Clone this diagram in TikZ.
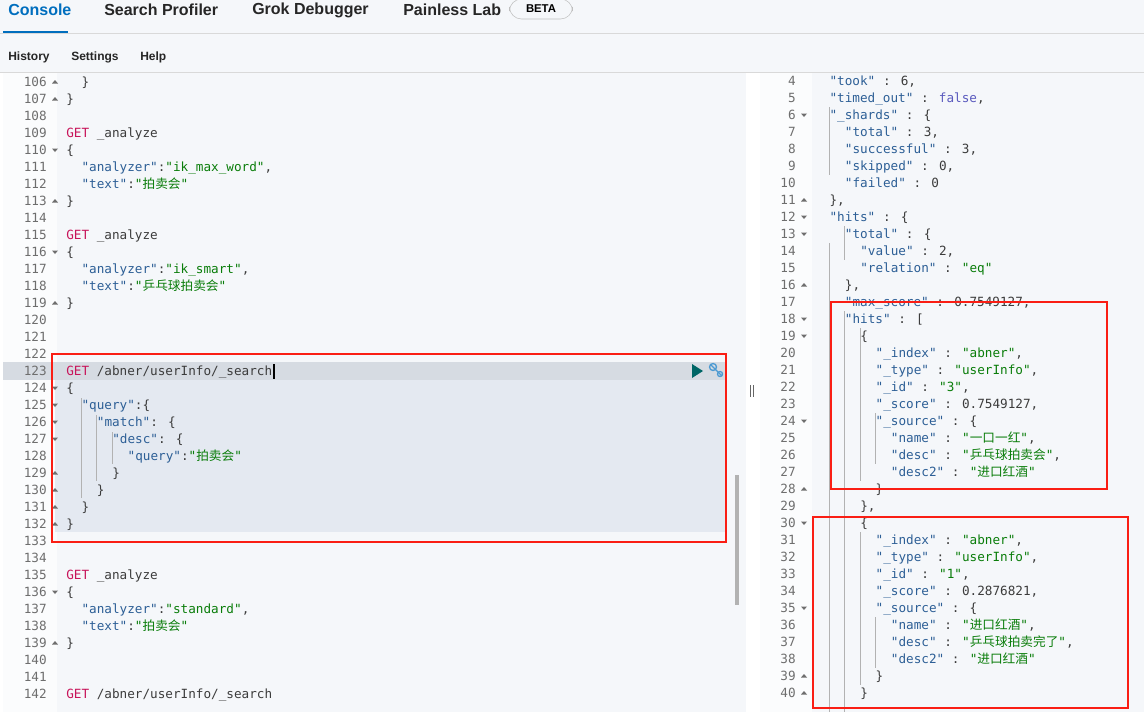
\documentclass[tikz,border=0pt]{standalone}
\usepackage{fontspec}
\setmainfont{Liberation Sans}
\newfontfamily\cjk{Noto Sans CJK SC}
\newfontfamily\mono{DejaVu Sans Mono}
\begin{document}
\definecolor{kc}{RGB}{45,95,150}
\definecolor{sc}{RGB}{10,125,10}
\definecolor{gc}{RGB}{200,20,90}
\definecolor{tc}{RGB}{60,60,60}
\definecolor{nc}{RGB}{110,110,110}
\definecolor{bg}{RGB}{245,247,250}
\definecolor{sel}{RGB}{228,233,241}
\definecolor{kb}{RGB}{0,110,190}
\definecolor{rb}{RGB}{250,30,20}
\definecolor{fc}{RGB}{90,90,190}
\newcommand\K[1]{\textcolor{kc}{#1}}
\newcommand\Sx[1]{\textcolor{sc}{#1}}
\newcommand\C[1]{{\cjk #1}}
\newcommand\Lc[3]{\node[code] at ({66+#2*7.67},{82+(#1-106)*17+4}) {#3};
  \node[lno] at (47,{82+(#1-106)*17+4}) {#1};}
\newcommand\Rc[3]{\node[code] at ({814+#2*7.67},{81+(#1-4)*17+4}) {#3};
  \node[lno] at (796,{81+(#1-4)*17+4}) {#1};}
\newcommand\FdL[1]{\fill[nc] (52,{82+(#1-106)*17-1.5}) -- (58,{82+(#1-106)*17-1.5}) -- (55,{82+(#1-106)*17+2}) -- cycle;}
\newcommand\FuL[1]{\fill[nc] (52,{82+(#1-106)*17+1.5}) -- (58,{82+(#1-106)*17+1.5}) -- (55,{82+(#1-106)*17-2}) -- cycle;}
\newcommand\FdR[1]{\fill[nc] (801,{81+(#1-4)*17-1.5}) -- (807,{81+(#1-4)*17-1.5}) -- (804,{81+(#1-4)*17+2}) -- cycle;}
\newcommand\FuR[1]{\fill[nc] (801,{81+(#1-4)*17+1.5}) -- (807,{81+(#1-4)*17+1.5}) -- (804,{81+(#1-4)*17-2}) -- cycle;}
\begin{tikzpicture}[x=0.75pt,y=-0.75pt,
  code/.style={anchor=base west,inner sep=0,font=\mono\fontsize{9.5}{11}\selectfont,text=tc},
  lno/.style={anchor=base east,inner sep=0,font=\mono\fontsize{9.5}{11}\selectfont,text=nc},
  tab/.style={anchor=west,inner sep=0,font=\fontsize{12}{14}\selectfont\bfseries,text=black!85},
  tool/.style={anchor=west,inner sep=0,font=\fontsize{9}{11}\selectfont\bfseries,text=black!85},
  red/.style={draw=rb,line width=1.9pt},
  guide/.style={draw=black!30,line width=0.5pt}]
\useasboundingbox (0,0) rectangle (1144,718);
\fill[white] (0,0) rectangle (1144,718);
\fill[bg] (0,0) rectangle (1144,72);
% tabs
\node[tab,text=kb] (t1) at (8,10) {Console};
\node[tab] (t2) at (104,10) {Search Profiler};
\node[tab] (t3) at (252,10) {Grok Debugger};
\node[tab] (t4) at (403,10) {Painless Lab};
\node[draw=black!25,rounded corners=9pt,minimum width=63pt*0.75,minimum height=20pt*0.75,inner sep=0,font=\fontsize{8.5}{10}\selectfont\bfseries] (beta) at (541,9) {BETA};
\draw[black!15] (0,33) -- (1144,33);
\draw[kb,line width=1.5pt] (3,32) -- (68,32);
\node[tool] (h1) at (8,57) {History};
\node[tool] (h2) at (71,57) {Settings};
\node[tool] (h3) at (140,57) {Help};
\draw[black!15] (0,72) -- (1144,72);
% panels
\fill[bg] (3,73) rectangle (746,712);
\fill[white!60!bg] (3,73) rectangle (57,712);
\fill[bg] (760,73) rectangle (1144,712);
\fill[white!60!bg] (760,73) rectangle (812,712);
\fill[sel] (55,362) rectangle (725,532);
\fill[black!6!sel] (3,362) rectangle (725,380);
\fill[black!30] (735,475) rectangle (739,605);
\draw[black!60,line width=0.6pt] (750,385) -- (750,397) (753,385) -- (753,397);
% left code
\Lc{106}{2}{\}}
\Lc{107}{0}{\}}
\Lc{108}{0}{}
\Lc{109}{0}{\textcolor{gc}{GET} \_analyze}
\Lc{110}{0}{\{}
\Lc{111}{2}{\K{"analyzer"}:\Sx{"ik\_max\_word"},}
\Lc{112}{2}{\K{"text"}:\Sx{"\C{拍卖会}"}}
\Lc{113}{0}{\}}
\Lc{114}{0}{}
\Lc{115}{0}{\textcolor{gc}{GET} \_analyze}
\Lc{116}{0}{\{}
\Lc{117}{2}{\K{"analyzer"}:\Sx{"ik\_smart"},}
\Lc{118}{2}{\K{"text"}:\Sx{"\C{乒乓球拍卖会}"}}
\Lc{119}{0}{\}}
\Lc{120}{0}{}
\Lc{121}{0}{}
\Lc{122}{0}{}
\Lc{123}{0}{\textcolor{gc}{GET} /abner/userInfo/\_search}
\Lc{124}{0}{\{}
\Lc{125}{2}{\K{"query"}:\{}
\Lc{126}{4}{\K{"match"}: \{}
\Lc{127}{6}{\K{"desc"}: \{}
\Lc{128}{8}{\K{"query"}:\Sx{"\C{拍卖会}"}}
\Lc{129}{6}{\}}
\Lc{130}{4}{\}}
\Lc{131}{2}{\}}
\Lc{132}{0}{\}}
\Lc{133}{0}{}
\Lc{134}{0}{}
\Lc{135}{0}{\textcolor{gc}{GET} \_analyze}
\Lc{136}{0}{\{}
\Lc{137}{2}{\K{"analyzer"}:\Sx{"standard"},}
\Lc{138}{2}{\K{"text"}:\Sx{"\C{拍卖会}"}}
\Lc{139}{0}{\}}
\Lc{140}{0}{}
\Lc{141}{0}{}
\Lc{142}{0}{\textcolor{gc}{GET} /abner/userInfo/\_search}
\draw[black,line width=0.8pt] (274,364) -- (274,379);
\foreach \n in {110,116,124,125,126,127,136} {\FdL{\n}}
\foreach \n in {106,107,113,119,129,130,131,132,139} {\FuL{\n}}
\draw[guide] (81,398) -- (81,498) (96,415) -- (96,481) (112,432) -- (112,464);
% run / wrench icons
\fill[teal!80!black] (692,364) -- (692,378) -- (703,371) -- cycle;
\draw[kb!70,line width=1pt] (711,365) -- (722,376);
\draw[kb!70,line width=1pt] (713,367) circle (3.5);
\draw[kb!70,line width=1pt] (720,374) circle (2.5);
% right code
\Rc{4}{2}{\K{"took"} : 6,}
\Rc{5}{2}{\K{"timed\_out"} : \textcolor{fc}{false},}
\Rc{6}{2}{\K{"\_shards"} : \{}
\Rc{7}{4}{\K{"total"} : 3,}
\Rc{8}{4}{\K{"successful"} : 3,}
\Rc{9}{4}{\K{"skipped"} : 0,}
\Rc{10}{4}{\K{"failed"} : 0}
\Rc{11}{2}{\},}
\Rc{12}{2}{\K{"hits"} : \{}
\Rc{13}{4}{\K{"total"} : \{}
\Rc{14}{6}{\K{"value"} : 2,}
\Rc{15}{6}{\K{"relation"} : \Sx{"eq"}}
\Rc{16}{4}{\},}
\Rc{17}{4}{\K{"max\_score"} : 0.7549127,}
\Rc{18}{4}{\K{"hits"} : [}
\Rc{19}{6}{\{}
\Rc{20}{8}{\K{"\_index"} : \Sx{"abner"},}
\Rc{21}{8}{\K{"\_type"} : \Sx{"userInfo"},}
\Rc{22}{8}{\K{"\_id"} : \Sx{"3"},}
\Rc{23}{8}{\K{"\_score"} : 0.7549127,}
\Rc{24}{8}{\K{"\_source"} : \{}
\Rc{25}{10}{\K{"name"} : \Sx{"\C{一口一红}"},}
\Rc{26}{10}{\K{"desc"} : \Sx{"\C{乒乓球拍卖会}"},}
\Rc{27}{10}{\K{"desc2"} : \Sx{"\C{进口红酒}"}}
\Rc{28}{8}{\}}
\Rc{29}{6}{\},}
\Rc{30}{6}{\{}
\Rc{31}{8}{\K{"\_index"} : \Sx{"abner"},}
\Rc{32}{8}{\K{"\_type"} : \Sx{"userInfo"},}
\Rc{33}{8}{\K{"\_id"} : \Sx{"1"},}
\Rc{34}{8}{\K{"\_score"} : 0.2876821,}
\Rc{35}{8}{\K{"\_source"} : \{}
\Rc{36}{10}{\K{"name"} : \Sx{"\C{进口红酒}"},}
\Rc{37}{10}{\K{"desc"} : \Sx{"\C{乒乓球拍卖完了}"},}
\Rc{38}{10}{\K{"desc2"} : \Sx{"\C{进口红酒}"}}
\Rc{39}{8}{\}}
\Rc{40}{6}{\}}
\foreach \n in {6,12,13,18,19,24,30,35} {\FdR{\n}}
\foreach \n in {11,16,28,39,40} {\FuR{\n}}
\draw[guide] (829,107) -- (829,175) (829,243) -- (829,712)
  (844,226) -- (844,260) (844,311) -- (844,712)
  (860,328) -- (860,481) (860,532) -- (860,685)
  (875,413) -- (875,464) (875,617) -- (875,668);
% red boxes
\draw[red] (52,354) rectangle (726,542);
\draw[red] (831,302) rectangle (1107,489);
\draw[red] (813,517) rectangle (1128,708);
\end{tikzpicture}
\end{document}
